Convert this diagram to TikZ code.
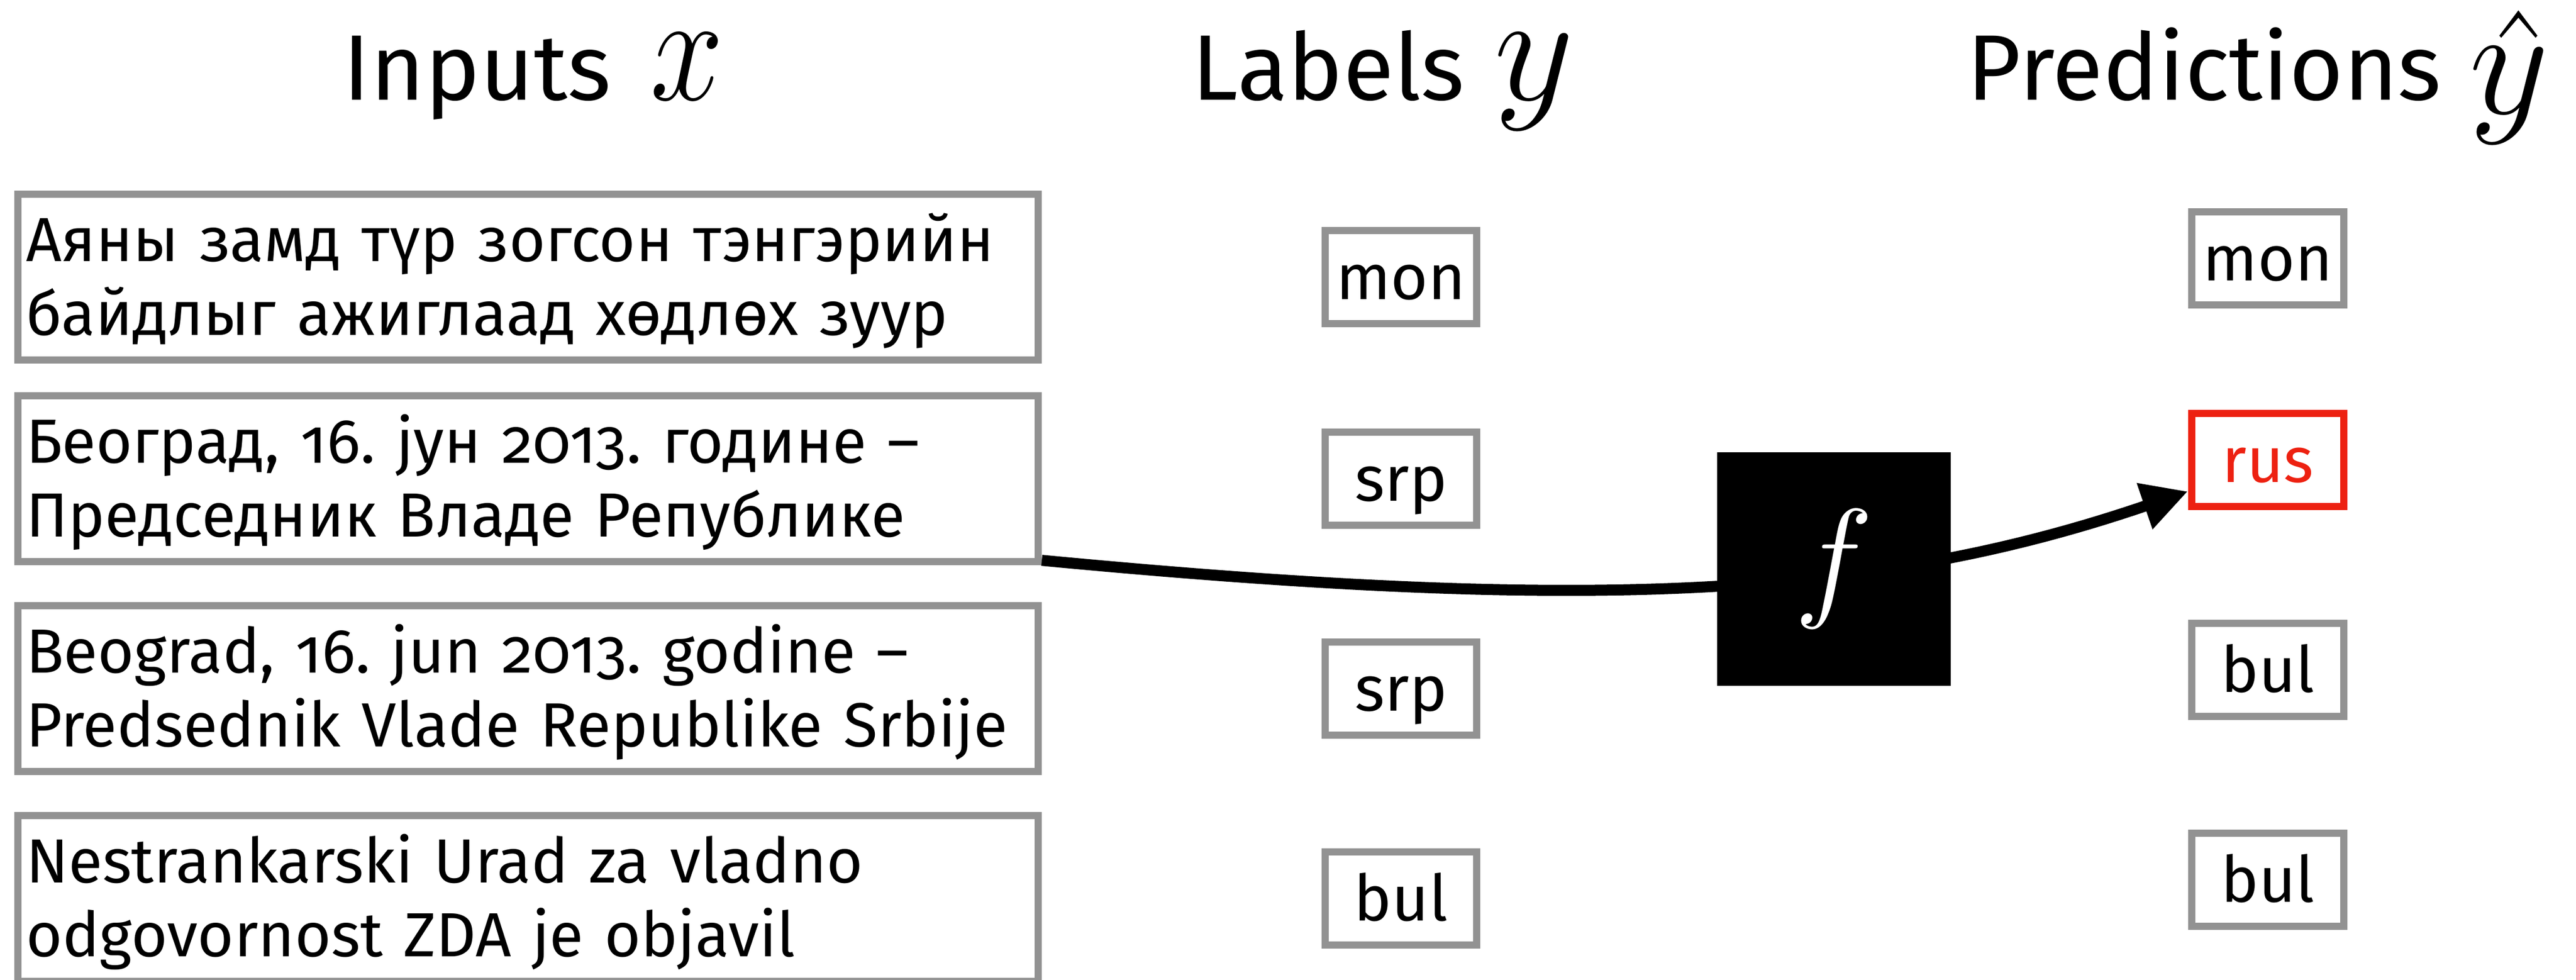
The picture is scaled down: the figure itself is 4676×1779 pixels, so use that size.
\RequirePackage{fix-cm}
\documentclass[tikz,border=0pt]{standalone}
\usepackage[no-math]{fontspec}
\setmainfont{Fira Sans}[Numbers=OldStyle]
\usetikzlibrary{arrows.meta,calc}
\definecolor{boxgray}{RGB}{146,146,146}
\definecolor{predred}{RGB}{237,33,17}
\frenchspacing
\begin{document}
\begin{tikzpicture}[x=0.01cm, y=-0.01cm,
  inbox/.style={draw=boxgray, line width=0.13cm, outer sep=0pt, anchor=north west,
    text width=18.22cm, align=left, inner xsep=0.145cm, inner ysep=0pt,
    text height=1.215cm, text depth=1.795cm, font=\fontsize{32.2}{38.3}\selectfont},
  labbox/.style={draw=boxgray, line width=0.13cm, outer sep=0pt, minimum width=2.75cm,
    inner xsep=0pt, inner ysep=0pt, text height=1.245cm, text depth=0.445cm,
    font=\fontsize{33}{40}\selectfont},
  wrong/.style={draw=predred, text=predred},
  coltitle/.style={anchor=base west, inner sep=0pt, font=\fontsize{48}{58}\selectfont},
  titlemath/.style={anchor=base west, inner sep=0pt, font=\fontsize{80}{80}\selectfont},
  conn/.style={line width=0.2cm, -{Triangle[length=0.83cm, width=0.83cm]}}
]
\clip (0,0) rectangle (4676,1779);
\fill[white] (0,0) rectangle (4676,1779);

% column titles
\node[coltitle] (tin) at (622,182) {Inputs};
\node[titlemath] (xsym) at (1180,182) {\scalebox{0.85}[1]{$x$}};
\node[coltitle] (tlab) at (2163,182) {Labels};
\node[titlemath] (ysym) at (2712,182) {$y$};
\node[coltitle] (tpred) at (3570,182) {Predictions};
\node[titlemath] (yhatsym) at (4482,207)
  {\rlap{\hspace{0.17cm}\raisebox{-0.46cm}{\scalebox{1}[1.2]{$\hat{\phantom{y}}$}}}$y$};

% inputs
\node[inbox] (in1) at (32.5,352.5) {Аяны замд түр зогсон тэнгэрийн\\байдлыг ажиглаад хөдлөх зуур};
\node[inbox] (in2) at (32.5,718.5) {Београд, 16. јун 2013. године –\\Председник Владе Републике};
\node[inbox] (in3) at (32.5,1099.5) {Beograd, 16. jun 2013. godine –\\Predsednik Vlade Republike Srbije};
\node[inbox] (in4) at (32.5,1480.5) {Nestrankarski Urad za vladno\\odgovornost ZDA je objavil};

% labels
\node[labbox] (lab1) at (2543,503) {mon};
\node[labbox] (lab2) at (2543,869) {srp};
\node[labbox] (lab3) at (2543,1250) {srp};
\node[labbox] (lab4) at (2543,1631) {bul};

% predictions
\node[labbox] (pred1) at (4116.5,469) {mon};
\node[labbox, wrong] (rus) at (4116.5,835) {rus};
\node[labbox] (pred3) at (4116.5,1216) {bul};
\node[labbox] (pred4) at (4116.5,1597) {bul};

% connector
\coordinate (astart) at ($(in2.south east)+(6.5,-2.5)$);
\coordinate (aend) at ($(rus.west)+(-7.5,57)$);
\draw[conn] (astart) .. controls (2890,1112) and (3404,1086) .. (aend);

% model box
\node[fill=black, minimum size=4.24cm, inner sep=0pt, outer sep=0pt, text=white] (f) at (3329,1033) {\fontsize{69}{70}\selectfont$f$};
\end{tikzpicture}
\end{document}
